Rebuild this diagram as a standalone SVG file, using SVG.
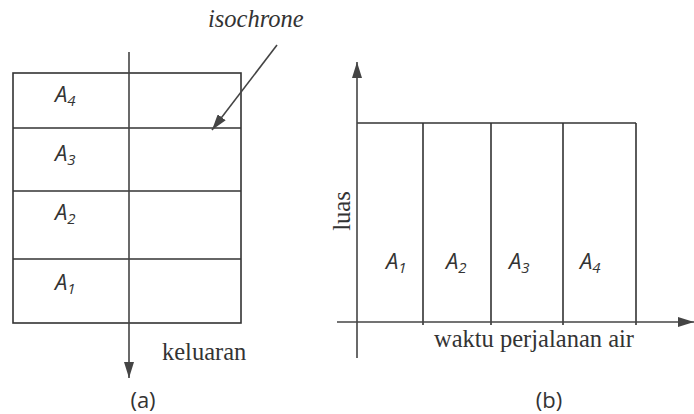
<svg xmlns="http://www.w3.org/2000/svg" width="694" height="414" viewBox="0 0 694 414">
<defs>
<style>
.ln{stroke:#333;stroke-width:1.6;fill:none}
.ax{stroke:#444;stroke-width:1.6;fill:none}
.lab{font-family:"Open Sans","DejaVu Sans",sans-serif;font-style:italic;font-size:22px;fill:#333}
.sub{font-size:15px}
.ser{font-family:"Liberation Serif","DejaVu Serif",serif;font-size:24.5px;fill:#333}
.cap{font-family:"Open Sans","DejaVu Sans",sans-serif;font-size:22px;fill:#333}
</style>
<marker id="ahL" viewBox="0 0 16 10" refX="16" refY="5" markerWidth="16" markerHeight="10" markerUnits="userSpaceOnUse" orient="auto">
<path d="M0,0 L16,5 L0,10 z" fill="#444"/>
</marker>
</defs>
<rect width="694" height="414" fill="#fff"/>
<g id="panel-a">
<g id="a-grid">
<rect x="13" y="73" width="228" height="250" class="ln"/>
<line x1="13" y1="128" x2="241" y2="128" class="ln"/>
<line x1="13" y1="191" x2="241" y2="191" class="ln"/>
<line x1="13" y1="259" x2="241" y2="259" class="ln"/>
</g>
<g id="a-A4"><text x="55" y="102" class="lab">A<tspan class="sub" dy="4">4</tspan></text></g>
<g id="a-A3"><text x="55" y="161" class="lab">A<tspan class="sub" dy="4">3</tspan></text></g>
<g id="a-A2"><text x="55" y="220" class="lab">A<tspan class="sub" dy="4">2</tspan></text></g>
<g id="a-A1"><text x="55" y="290" class="lab">A<tspan class="sub" dy="4">1</tspan></text></g>
<g id="isochrone"><text x="208" y="27" class="ser" font-style="italic">isochrone</text></g>
<g id="keluaran"><text x="162" y="360" class="ser">keluaran</text></g>
<g id="cap-a"><text x="143" y="408" class="cap" text-anchor="middle">(a)</text></g>
</g>
<g id="panel-b">
<g id="b-grid">
<line x1="357" y1="123" x2="636" y2="123" class="ln"/>
<line x1="423" y1="123" x2="423" y2="325" class="ln"/>
<line x1="491" y1="123" x2="491" y2="325" class="ln"/>
<line x1="563" y1="123" x2="563" y2="325" class="ln"/>
<line x1="636" y1="123" x2="636" y2="325" class="ln"/>
</g>
<g id="b-A1"><text x="386" y="269" class="lab">A<tspan class="sub" dy="4">1</tspan></text></g>
<g id="b-A2"><text x="446" y="269" class="lab">A<tspan class="sub" dy="4">2</tspan></text></g>
<g id="b-A3"><text x="509" y="269" class="lab">A<tspan class="sub" dy="4">3</tspan></text></g>
<g id="b-A4"><text x="580" y="269" class="lab">A<tspan class="sub" dy="4">4</tspan></text></g>
<g id="luas"><text transform="translate(350,211) rotate(-90)" class="ser" text-anchor="middle">luas</text></g>
<g id="waktu"><text x="434" y="347" class="ser">waktu perjalanan air</text></g>
<g id="cap-b"><text x="549" y="408" class="cap" text-anchor="middle">(b)</text></g>
</g>
<g id="connectors">
<line x1="129" y1="52" x2="129" y2="378" class="ax" marker-end="url(#ahL)"/>
<line x1="357" y1="358" x2="357" y2="62" class="ax" marker-end="url(#ahL)"/>
<line x1="337" y1="322" x2="694" y2="322" class="ax" marker-end="url(#ahL)"/>
<line x1="277" y1="45" x2="212" y2="130" class="ax" stroke-width="1.4" marker-end="url(#ahL)"/>
</g>
</svg>
